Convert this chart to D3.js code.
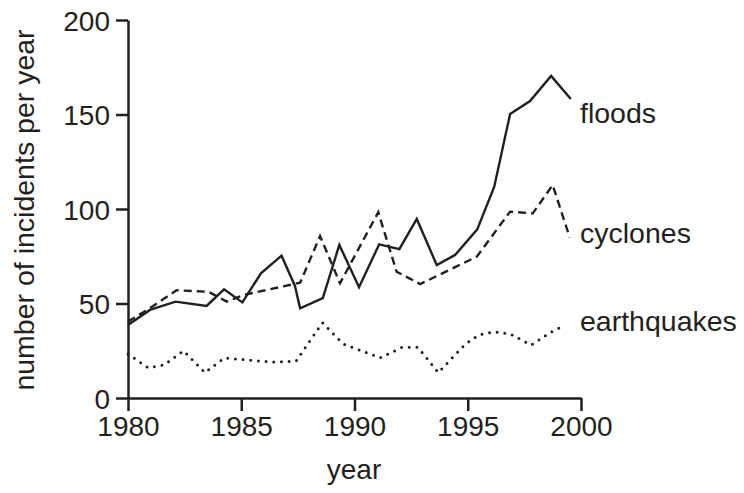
<!DOCTYPE html>
<html>
<head>
<meta charset="utf-8">
<script src="https://cdn.jsdelivr.net/npm/d3@7"></script>
<style>
  body { margin: 0; background: #fff; }
  text { font-family: "Liberation Sans", Arial, sans-serif; fill: #231f20; }
</style>
</head>
<body>
<svg id="chart" width="744" height="493"></svg>
<script>
// values (years are fractional where the kinks fall between years)
const floodYears = [1980, 1980.97, 1982.1, 1983.47, 1984.24, 1985.05, 1985.87, 1986.78, 1987.37, 1987.6, 1988.6, 1989.33, 1990.2, 1991.09, 1991.98, 1992.75, 1993.63, 1994.44, 1995.42, 1996.17, 1996.87, 1997.75, 1998.68, 1999.55];
const floodCounts = [38.6, 46.6, 51, 48.7, 57.5, 50.6, 66, 75.3, 59.3, 47.5, 52.8, 81, 58.6, 81.3, 78.8, 94.7, 70.4, 75.7, 89.2, 111.8, 150.3, 157.1, 170.4, 158.2];

const cycloneYears = [1980, 1980.9, 1982.15, 1983.55, 1984.36, 1985.1, 1987.6, 1988.48, 1989.36, 1991.05, 1991.86, 1992.9, 1995.4, 1996.87, 1997.87, 1998.75, 1999.5];
const cycloneCounts = [40.4, 47, 57, 56.2, 51, 54.5, 61, 85.7, 60.7, 98.3, 66.8, 60.3, 74.8, 98.6, 97.7, 112.7, 85];

const quakeYears = [1980, 1980.9, 1981.6, 1982.45, 1983.4, 1984.25, 1986.36, 1987.42, 1988.58, 1989.5, 1991.13, 1992.1, 1992.8, 1993.7, 1994.9, 1995.48, 1996.17, 1996.87, 1997.8, 1998.63, 1999.3];
const quakeCounts = [23.3, 15.9, 17.5, 25, 13.4, 21.2, 19, 19.5, 39.8, 28.6, 21.3, 26.8, 26.8, 13.4, 28.6, 33.3, 35, 33.9, 28, 34.6, 38.6];

const xTicks = [1980, 1985, 1990, 1995, 2000];
const yTicks = [0, 50, 100, 150, 200];
const seriesNames = ["floods", "cyclones", "earthquakes"];
const labelValues = [150.8, 87.3, 40.7];

const ink = "#231f20";
const svg = d3.select("#chart");

const x = d3.scaleLinear().domain([1980, 2000]).range([128, 581]);
const y = d3.scaleLinear().domain([0, 200]).range([398, 20]);

// axes
const xAxis = svg.append("g")
  .attr("transform", "translate(0,398)")
  .call(d3.axisBottom(x).tickValues(xTicks).tickFormat(d3.format("d")).tickSize(13).tickSizeOuter(0).tickPadding(5));
const yAxis = svg.append("g")
  .attr("transform", "translate(128,0)")
  .call(d3.axisLeft(y).tickValues(yTicks).tickSize(12).tickSizeOuter(0).tickPadding(6));

[xAxis, yAxis].forEach(g => {
  g.selectAll("path, line").attr("stroke", ink).attr("stroke-width", 2.5);
  g.selectAll("text").attr("font-size", 28).attr("fill", ink)
    .style("font-family", "'Liberation Sans', Arial, sans-serif");
});
yAxis.selectAll("text").attr("dy", "0.36em");

svg.append("text")
  .attr("x", 354).attr("y", 479)
  .attr("text-anchor", "middle")
  .attr("font-size", 28)
  .text("year");

svg.append("text")
  .attr("transform", "translate(34,210) rotate(-90)")
  .attr("text-anchor", "middle")
  .attr("font-size", 28.5)
  .text("number of incidents per year");

// lines
const line = d3.line().x(d => x(d[0])).y(d => y(d[1]));
const series = [
  { pts: d3.zip(floodYears, floodCounts), dash: null, cap: "butt" },
  { pts: d3.zip(cycloneYears, cycloneCounts), dash: "8 5", cap: "butt" },
  { pts: d3.zip(quakeYears, quakeCounts), dash: "0 7.7", cap: "round" }
];

svg.append("g").selectAll("path")
  .data(series)
  .join("path")
  .attr("d", d => line(d.pts))
  .attr("fill", "none")
  .attr("stroke", ink)
  .attr("stroke-width", d => d.cap === "round" ? 3 : 2.4)
  .attr("stroke-linejoin", "miter")
  .attr("stroke-linecap", d => d.cap)
  .attr("stroke-dasharray", d => d.dash);

// direct labels
svg.append("g").selectAll("text")
  .data(seriesNames)
  .join("text")
  .attr("x", 580)
  .attr("y", (d, i) => y(labelValues[i]))
  .attr("dy", "0.36em")
  .attr("font-size", 28.5)
  .text(d => d);
</script>
</body>
</html>
